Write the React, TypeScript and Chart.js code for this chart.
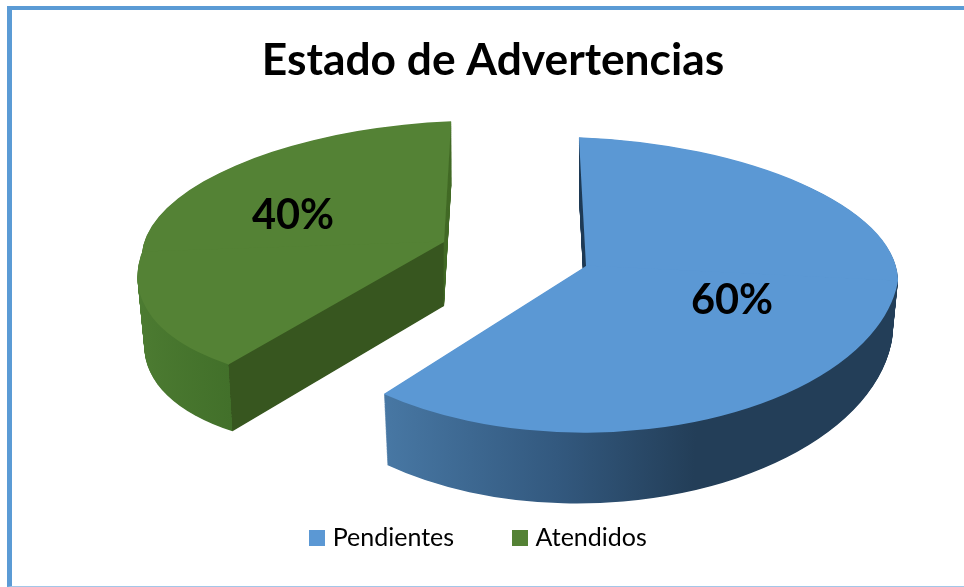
import React, { useEffect, useRef } from "react";
import { Chart, registerables } from "chart.js";

Chart.register(...registerables);

const titleText = "Estado de Advertencias";
const categories = ["Pendientes", "Atendidos"];
const values = [60, 40];
const colors = ["#5b98d4", "#548235"];

const FONT = "Lato, 'Open Sans', sans-serif";

// Tilted-view geometry: each slice is mapped by a two-part affine transform
// that stands in for the perspective of the original 3-D pie.
const views = [
  {
    apex: [586, 266], a: 312, c: 15, bUp: 0, dUp: 128.5, bDown: -30, dDown: 166,
    depth: 62, da: -6, dc: -3, dd: 9,
    wallUp: "#233e58",
    wallStops: [[0, "#4f80ad"], [0.18, "#4a7ba8"], [0.5, "#33597f"], [0.72, "#233e58"], [1, "#233e58"]],
    label: [732, 301],
  },
  {
    apex: [444, 242], a: 302, c: -10, bUp: -14, dUp: 121, bDown: -53, dDown: 142,
    depth: 64, da: -7, dc: -5, dd: 0,
    wallUp: "#47702a",
    wallStops: [[0, "#4d7c32"], [0.215, "#42702a"], [0.215, "#37561f"], [1, "#37561f"]],
    label: [293, 216],
  },
];

function applyView(ctx: any, el: any, v: any, upper: boolean, t: number) {
  const R = el.outerRadius;
  const a = v.a + v.da * t;
  const c = v.c + v.dc * t;
  const b = upper ? v.bUp : v.bDown;
  const d = upper ? v.dUp : v.dDown + v.dd * t;
  const ex = v.apex[0];
  const ey = v.apex[1] + v.depth * t;
  ctx.setTransform(a / R, c / R, b / R, d / R, ex - (a * el.x + b * el.y) / R, ey - (c * el.x + d * el.y) / R);
  ctx.beginPath();
  if (upper) ctx.rect(el.x - 2 * R, el.y - 2 * R, 4 * R, 2 * R + 0.6);
  else ctx.rect(el.x - 2 * R, el.y - 0.6, 4 * R, 2 * R);
  ctx.clip();
}

const tilted3d = {
  id: "tilted3d",
  beforeDatasetsDraw(chart: any) {
    const ctx = chart.ctx;
    const arcs = chart.getDatasetMeta(0).data;
    arcs.forEach((el: any, i: number) => {
      const v = views[i];
      const R = el.outerRadius;
      for (const upper of [true, false]) {
        let fill: any = v.wallUp;
        if (!upper) {
          fill = ctx.createLinearGradient(el.x - R, 0, el.x + R, 0);
          v.wallStops.forEach((s: any) => fill.addColorStop(s[0], s[1]));
        }
        const steps = Math.ceil(v.depth * 1.5);
        for (let s = steps; s >= 1; s--) {
          ctx.save();
          applyView(ctx, el, v, upper, s / steps);
          ctx.beginPath();
          ctx.moveTo(el.x, el.y);
          ctx.arc(el.x, el.y, R, el.startAngle, el.endAngle);
          ctx.closePath();
          ctx.fillStyle = fill;
          ctx.fill();
          ctx.restore();
        }
      }
    });
    arcs.forEach((el: any, i: number) => {
      for (const upper of [true, false]) {
        ctx.save();
        applyView(ctx, el, views[i], upper, 0);
        el.draw(ctx);
        ctx.restore();
      }
    });
    ctx.save();
    ctx.font = "bold 41.5px " + FONT;
    ctx.fillStyle = "#000";
    ctx.textAlign = "center";
    ctx.textBaseline = "middle";
    arcs.forEach((_: any, i: number) => {
      ctx.fillText(values[i] + "%", views[i].label[0], views[i].label[1]);
    });
    ctx.restore();
    return false;
  },
  afterLayout(chart: any) {
    chart.legend.left -= 12.5;
    chart.legend.right -= 12.5;
  },
};

function swatch(color: string) {
  const c = document.createElement("canvas");
  c.width = 16;
  c.height = 16;
  const x = c.getContext("2d")!;
  x.fillStyle = color;
  x.fillRect(0, 0, 16, 16);
  return c;
}

export default function App() {
  const ref = useRef<HTMLCanvasElement>(null);
  useEffect(() => {
    const chart = new Chart(ref.current!, {
      type: "pie",
      data: {
        labels: categories,
        datasets: [{ data: values, backgroundColor: colors, borderWidth: 0 }],
      },
      plugins: [tilted3d],
      options: {
        responsive: false,
        animation: false,
        rotation: -1.3,
        layout: { padding: { left: 22, right: 0, top: 34, bottom: 27 } },
        plugins: {
          tooltip: { enabled: false },
          title: {
            display: true,
            text: titleText,
            color: "#000",
            font: { family: FONT, size: 44.3, weight: "bold" },
            padding: { top: 0, bottom: 0 },
          },
          legend: {
            position: "bottom",
            labels: {
              usePointStyle: true,
              pointStyleWidth: 6,
              boxHeight: 16,
              padding: 63,
              color: "#111",
              font: { family: FONT, size: 25 },
              generateLabels: () =>
                categories.map((text, i) => ({
                  text,
                  fillStyle: colors[i],
                  strokeStyle: colors[i],
                  lineWidth: 0,
                  hidden: false,
                  index: i,
                  pointStyle: swatch(colors[i]),
                })),
            },
          },
        },
      },
    } as any);
    return () => chart.destroy();
  }, []);
  return (
    <div style={{ position: "absolute", left: 0, top: 0, width: 964, height: 587, background: "#fff", overflow: "hidden" }}>
      <canvas ref={ref} width={964} height={587} style={{ position: "absolute", left: 0, top: 0 }} />
      <div
        style={{
          position: "absolute", left: 7, top: 6, width: 970, height: 581, boxSizing: "border-box",
          borderLeft: "5px solid #5b9bd5", borderTop: "4px solid #5b9bd5", borderBottom: "1px solid #a3c6e8",
        }}
      />
    </div>
  );
}
